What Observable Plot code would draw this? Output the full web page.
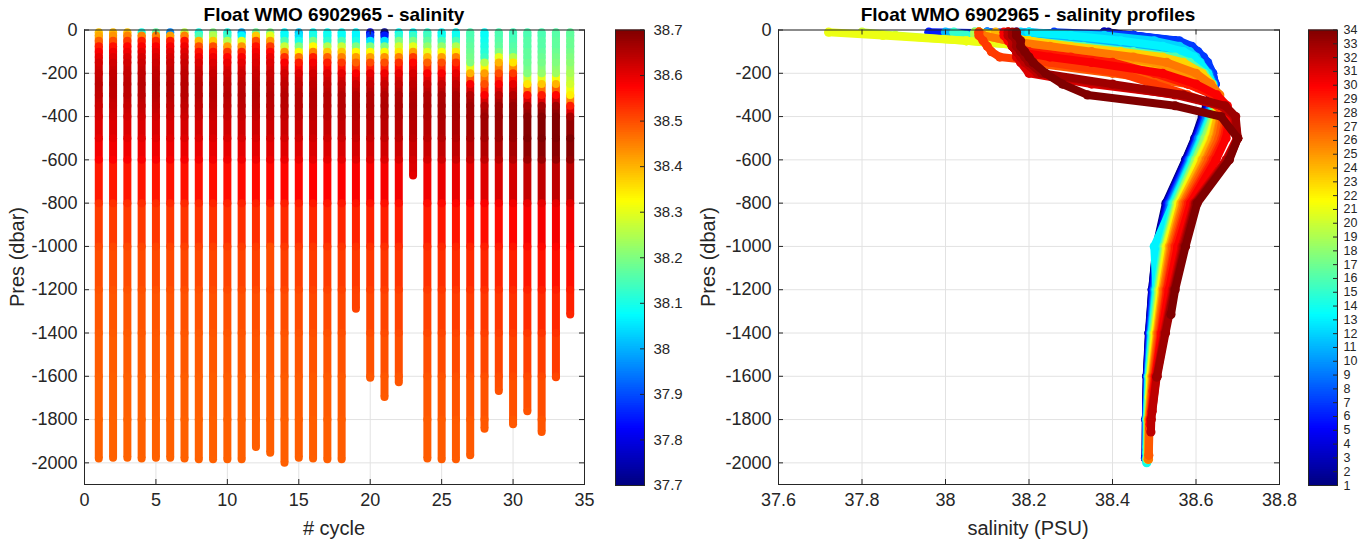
<!DOCTYPE html>
<html><head><meta charset="utf-8">
<script src="https://cdn.jsdelivr.net/npm/d3@7"></script>
<script src="https://cdn.jsdelivr.net/npm/@observablehq/plot@0.6"></script>
<style>
body{margin:0;background:#fff;font-family:"Liberation Sans",Arial,sans-serif;}
#wrap{position:relative;width:1368px;height:545px;overflow:hidden;background:#fff;}
.abs{position:absolute;}
.abs svg{display:block;}
.title{font-weight:bold;font-size:19px;color:#000;white-space:nowrap;transform:translate(-50%,-50%);}
.lab{font-size:20px;color:#262626;white-space:nowrap;transform:translate(-50%,-50%);}
.rot{transform:translate(-50%,-50%) rotate(-90deg);}
</style></head>
<body><div id="wrap"></div>
<script>
// ---------------- data ----------------
const cycleNumbers = [1,2,3,4,5,6,7,8,9,10,11,12,13,14,15,16,17,18,19,20,21,22,23,24,25,26,27,28,29,30,31,32,33,34];
// measurement pressure levels (dbar); the last value of each profile sits at that cycle's max pressure
const presLevels = [10,25,50,75,100,125,150,200,250,300,350,400,500,600,800,1000,1200,1400,1600,1800];
const maxPres = [1980,1976,1976,1980,1976,1976,1980,1983,1983,1983,1983,1927,1953,1999,1976,1980,1983,1983,1288,1607,1696,1627,672,1980,1983,1983,1965,1842,1668,1822,1762,1857,1604,1315];

// salinity (PSU) per cycle at presLevels, last value at maxPres
const c01 = [38.38,38.41,38.48,38.55,38.58,38.60,38.615,38.63,38.64,38.635,38.625,38.615,38.597,38.575,38.528,38.505,38.495,38.487,38.482,38.480,38.479];
const c02 = [38.39,38.43,38.50,38.56,38.59,38.605,38.62,38.635,38.64,38.638,38.628,38.617,38.598,38.576,38.530,38.506,38.495,38.488,38.482,38.480,38.480];
const c03 = [38.38,38.45,38.52,38.57,38.59,38.61,38.62,38.635,38.642,38.64,38.63,38.618,38.60,38.578,38.531,38.507,38.496,38.488,38.483,38.480,38.479];
const c04 = [38.10,38.45,38.55,38.58,38.60,38.615,38.625,38.638,38.645,38.642,38.632,38.62,38.601,38.58,38.533,38.508,38.497,38.489,38.483,38.481,38.480];
const c05 = [38.17,38.45,38.54,38.58,38.60,38.613,38.624,38.637,38.645,38.643,38.634,38.621,38.602,38.58,38.533,38.509,38.497,38.489,38.484,38.481,38.480];
const c06 = [37.96,38.42,38.55,38.585,38.602,38.615,38.626,38.64,38.646,38.644,38.635,38.622,38.603,38.582,38.535,38.51,38.498,38.49,38.484,38.481,38.480];
const c07 = [38.26,38.45,38.56,38.59,38.605,38.618,38.628,38.64,38.646,38.645,38.636,38.624,38.605,38.583,38.537,38.512,38.50,38.491,38.484,38.481,38.481];
const c08 = [38.10,38.15,38.40,38.50,38.56,38.59,38.61,38.632,38.643,38.645,38.637,38.626,38.606,38.585,38.538,38.513,38.50,38.491,38.485,38.481,38.481];
const c09 = [38.20,38.25,38.38,38.50,38.56,38.59,38.608,38.63,38.642,38.645,38.638,38.627,38.607,38.586,38.54,38.514,38.501,38.492,38.485,38.482,38.481];
const c10 = [38.10,38.13,38.25,38.42,38.52,38.57,38.595,38.625,38.64,38.646,38.64,38.63,38.61,38.588,38.542,38.516,38.503,38.493,38.486,38.482,38.481];
const c11 = [38.00,38.07,38.30,38.43,38.54,38.58,38.60,38.626,38.64,38.646,38.641,38.631,38.611,38.589,38.543,38.517,38.503,38.493,38.486,38.482,38.482];
const c12 = [38.18,38.38,38.50,38.56,38.585,38.60,38.61,38.628,38.64,38.646,38.642,38.632,38.612,38.59,38.544,38.518,38.504,38.494,38.487,38.483,38.482];
const c13 = [38.20,38.30,38.42,38.52,38.57,38.595,38.608,38.628,38.64,38.647,38.643,38.634,38.614,38.592,38.546,38.50,38.505,38.495,38.487,38.483,38.482];
const c14 = [38.07,38.08,38.15,38.27,38.43,38.53,38.58,38.62,38.638,38.647,38.644,38.635,38.615,38.593,38.547,38.521,38.506,38.495,38.487,38.483,38.482];
const c15 = [38.02,38.05,38.10,38.20,38.33,38.46,38.55,38.61,38.635,38.646,38.645,38.637,38.617,38.595,38.549,38.522,38.507,38.496,38.488,38.484,38.483];
const c16 = [38.08,38.10,38.20,38.33,38.45,38.55,38.585,38.62,38.638,38.648,38.646,38.64,38.62,38.598,38.552,38.524,38.51,38.498,38.489,38.484,38.483];
const c17 = [38.08,38.09,38.12,38.25,38.38,38.48,38.55,38.61,38.635,38.648,38.647,38.641,38.621,38.599,38.553,38.525,38.51,38.498,38.489,38.484,38.483];
const c18 = [38.08,38.08,38.15,38.27,38.38,38.45,38.52,38.60,38.632,38.648,38.648,38.642,38.623,38.60,38.554,38.526,38.511,38.499,38.49,38.485,38.484];
const c19 = [38.07,38.07,38.10,38.20,38.33,38.42,38.48,38.58,38.625,38.648,38.65,38.645,38.628,38.604,38.556,38.528,38.513,38.51];
const c20 = [37.80,37.88,38.05,38.20,38.33,38.42,38.50,38.60,38.63,38.65,38.652,38.647,38.63,38.606,38.558,38.529,38.514,38.501,38.491,38.490];
const c21 = [37.72,37.85,38.05,38.20,38.32,38.43,38.50,38.59,38.63,38.65,38.653,38.648,38.632,38.607,38.559,38.53,38.515,38.502,38.491,38.488];
const c22 = [38.08,38.12,38.20,38.28,38.35,38.45,38.53,38.60,38.632,38.651,38.655,38.65,38.636,38.612,38.562,38.533,38.517,38.504,38.493,38.492];
const c23 = [38.08,38.13,38.20,38.30,38.42,38.52,38.57,38.615,38.638,38.652,38.656,38.651,38.638,38.614,38.60];
const c24 = [38.12,38.14,38.17,38.22,38.30,38.40,38.48,38.58,38.628,38.652,38.657,38.652,38.64,38.616,38.564,38.536,38.519,38.506,38.494,38.486,38.485];
const c25 = [38.08,38.09,38.15,38.22,38.32,38.42,38.50,38.58,38.63,38.655,38.66,38.658,38.646,38.622,38.568,38.539,38.522,38.508,38.496,38.487,38.486];
const c26 = [38.08,38.09,38.15,38.25,38.35,38.45,38.53,38.60,38.635,38.657,38.662,38.66,38.649,38.625,38.57,38.541,38.523,38.509,38.497,38.488,38.486];
const c27 = [38.15,38.15,38.16,38.17,38.18,38.19,38.20,38.40,38.58,38.65,38.668,38.665,38.655,38.63,38.574,38.544,38.526,38.511,38.498,38.489,38.487];
const c28 = [38.08,38.08,38.09,38.10,38.11,38.13,38.25,38.42,38.50,38.58,38.65,38.672,38.662,38.637,38.578,38.548,38.529,38.514,38.50,38.49,38.489];
const c29 = [38.15,38.15,38.16,38.17,38.20,38.30,38.40,38.50,38.58,38.64,38.67,38.676,38.667,38.642,38.582,38.551,38.531,38.516,38.502,38.497];
const c30 = [38.14,38.14,38.15,38.16,38.17,38.25,38.35,38.52,38.60,38.65,38.675,38.68,38.672,38.648,38.587,38.556,38.535,38.518,38.503,38.491,38.490];
const c31 = [38.15,38.15,38.16,38.16,38.17,38.17,38.18,38.20,38.35,38.56,38.66,38.69,38.698,38.672,38.595,38.566,38.543,38.523,38.505,38.495];
const c32 = [38.15,38.15,38.16,38.16,38.17,38.18,38.19,38.22,38.38,38.55,38.66,38.692,38.70,38.675,38.598,38.569,38.546,38.525,38.506,38.493,38.492];
const c33 = [38.16,38.16,38.17,38.17,38.18,38.19,38.20,38.23,38.40,38.57,38.67,38.695,38.70,38.678,38.60,38.572,38.548,38.527,38.507,38.506];
const c34 = [38.17,38.17,38.18,38.18,38.19,38.20,38.21,38.24,38.28,38.34,38.55,38.66,38.70,38.68,38.603,38.575,38.55,38.54];

const cycleTicks = [0,5,10,15,20,25,30,35];
const presTicks = [0,-200,-400,-600,-800,-1000,-1200,-1400,-1600,-1800,-2000];
const salTicks = [37.6,37.8,38,38.2,38.4,38.6,38.8];
const salBarTicks = [37.7,37.8,37.9,38,38.1,38.2,38.3,38.4,38.5,38.6,38.7];

// ---------------- helpers ----------------
const FONT = '"Liberation Sans", Arial, Helvetica, sans-serif';
const AX = "#262626";
function jet(t) {
  t = Math.max(0, Math.min(1, t));
  const c = v => Math.round(255 * Math.max(0, Math.min(1, v)));
  return `rgb(${c(Math.min(4*t-1.5, -4*t+4.5))},${c(Math.min(4*t-0.5, -4*t+3.5))},${c(Math.min(4*t+0.5, -4*t+2.5))})`;
}
const profiles = [c01,c02,c03,c04,c05,c06,c07,c08,c09,c10,c11,c12,c13,c14,c15,c16,c17,c18,c19,c20,c21,c22,c23,c24,c25,c26,c27,c28,c29,c30,c31,c32,c33,c34];
const byCycle = profiles.map((sal, k) => {
  const mp = maxPres[k];
  const lv = presLevels.filter(p => p < mp);
  return sal.map((s, i) => ({cycle: cycleNumbers[k], p: i < lv.length ? lv[i] : mp, s}));
});
const points = byCycle.flat();
const segs = [];
byCycle.forEach(arr => { for (let i = 0; i + 1 < arr.length; i++) segs.push({cycle: arr[i].cycle, y1: -arr[i].p, y2: -arr[i+1].p, s: (arr[i].s + arr[i+1].s) / 2}); });

const svgStyle = {fontFamily: FONT, fontSize: "18px", color: AX, background: "transparent", overflow: "visible", maxWidth: "none"};
const salColor = {type: "linear", domain: [37.7, 38.7], interpolate: jet, clamp: true};
const cycColor = {type: "linear", domain: [1, 34], interpolate: jet, clamp: true};

function insideTicks(W, H, xt, yt) {
  return [
    Plot.tickY(yt, {y: d => d, insetRight: W - 5, stroke: AX}),
    Plot.tickY(yt, {y: d => d, insetLeft: W - 5, stroke: AX}),
    Plot.tickX(xt, {x: d => d, insetTop: H - 5, stroke: AX}),
    Plot.tickX(xt, {x: d => d, insetBottom: H - 5, stroke: AX})
  ];
}
const wrap = document.getElementById("wrap");
function place(node, left, top) {
  const d = document.createElement("div");
  d.className = "abs"; d.style.left = left + "px"; d.style.top = top + "px";
  d.appendChild(node); wrap.appendChild(d); return d;
}
function label(text, x, y, cls) {
  const d = document.createElement("div");
  d.className = "abs " + cls; d.style.left = x + "px"; d.style.top = y + "px";
  d.textContent = text; wrap.appendChild(d);
}

// ---------------- left panel ----------------
const PW = 500, PH = 454.5;
const left = Plot.plot({
  width: 600, height: 545, marginLeft: 84, marginRight: 16, marginTop: 29.5, marginBottom: 61,
  style: svgStyle,
  x: {domain: [0, 35], ticks: cycleTicks, tickSize: 0, tickPadding: 9, label: null, tickFormat: d => String(d)},
  y: {domain: [-2100, 0], ticks: presTicks, tickSize: 0, tickPadding: 7, label: null, tickFormat: d => String(d)},
  color: salColor,
  marks: [
    Plot.ruleX(cycleTicks, {stroke: "#e2e2e2"}),
    Plot.ruleY(presTicks, {stroke: "#e2e2e2"}),
    Plot.ruleX(segs, {x: "cycle", y1: "y1", y2: "y2", stroke: "s", strokeWidth: 8}),
    Plot.dot(points, {x: "cycle", y: d => -d.p, fill: "s", r: 4}),
    Plot.frame({stroke: AX}),
    ...insideTicks(PW, PH, cycleTicks, presTicks)
  ]
});
place(left, 0, 0);

// left colorbar
const salSlices = d3.range(200).map(i => ({a: 37.7 + i * 0.005, b: 37.7 + Math.min(i + 1.5, 200) * 0.005, v: 37.7 + (i + 0.5) * 0.005}));
const cb1 = Plot.plot({
  width: 95, height: 545, marginLeft: 0, marginRight: 66, marginTop: 29.5, marginBottom: 60,
  style: {...svgStyle, fontSize: "15px"},
  x: {domain: [0, 1], axis: null},
  y: {domain: [37.7, 38.7], ticks: salBarTicks, axis: "right", tickSize: 0, tickPadding: 9, label: null, tickFormat: d => String(d)},
  color: salColor,
  marks: [
    Plot.rect(salSlices, {x1: () => 0, x2: () => 1, y1: "a", y2: "b", fill: "v"}),
    Plot.frame({stroke: AX}),
    Plot.tickY(salBarTicks, {y: d => d, insetLeft: 25, stroke: AX})
  ]
});
place(cb1, 615, 0);

// ---------------- right panel ----------------
const cycleMarks = byCycle.flatMap(arr => [
  Plot.line(arr, {x: "s", y: d => -d.p, stroke: "cycle", strokeWidth: 8, strokeLinecap: "round", strokeLinejoin: "round"}),
  Plot.dot(arr, {x: "s", y: d => -d.p, fill: "cycle", r: 4.6})
]);
const right = Plot.plot({
  width: 600, height: 545, marginLeft: 78, marginRight: 21, marginTop: 29.5, marginBottom: 61,
  style: svgStyle,
  x: {domain: [37.6, 38.8], ticks: salTicks, tickSize: 0, tickPadding: 9, label: null, tickFormat: d => String(d)},
  y: {domain: [-2100, 0], ticks: presTicks, tickSize: 0, tickPadding: 7, label: null, tickFormat: d => String(d)},
  color: cycColor,
  marks: [
    Plot.ruleX(salTicks, {stroke: "#e2e2e2"}),
    Plot.ruleY(presTicks, {stroke: "#e2e2e2"}),
    ...cycleMarks,
    Plot.frame({stroke: AX}),
    ...insideTicks(501, PH, salTicks, presTicks)
  ]
});
place(right, 700, 0);

// right colorbar
const cycSlices = d3.range(200).map(i => ({a: 1 + i * 33 / 200, b: 1 + Math.min(i + 1.5, 200) * 33 / 200, v: 1 + (i + 0.5) * 33 / 200}));
const cb2 = Plot.plot({
  width: 60, height: 545, marginLeft: 0, marginRight: 31, marginTop: 29.5, marginBottom: 60,
  style: {...svgStyle, fontSize: "12.5px"},
  x: {domain: [0, 1], axis: null},
  y: {domain: [1, 34], ticks: cycleNumbers, axis: "right", tickSize: 0, tickPadding: 6, label: null, tickFormat: d => String(d)},
  color: cycColor,
  marks: [
    Plot.rect(cycSlices, {x1: () => 0, x2: () => 1, y1: "a", y2: "b", fill: "v"}),
    Plot.frame({stroke: AX}),
    Plot.tickY(cycleNumbers, {y: d => d, insetLeft: 25, stroke: AX})
  ]
});
place(cb2, 1308, 0);

// ---------------- texts ----------------
label("Float WMO 6902965 - salinity", 334, 15, "title");
label("Float WMO 6902965 - salinity profiles", 1028, 15, "title");
label("# cycle", 334, 528, "lab");
label("salinity (PSU)", 1028, 528, "lab");
label("Pres (dbar)", 17, 257, "lab rot");
label("Pres (dbar)", 708, 257, "lab rot");
</script>
</body></html>
